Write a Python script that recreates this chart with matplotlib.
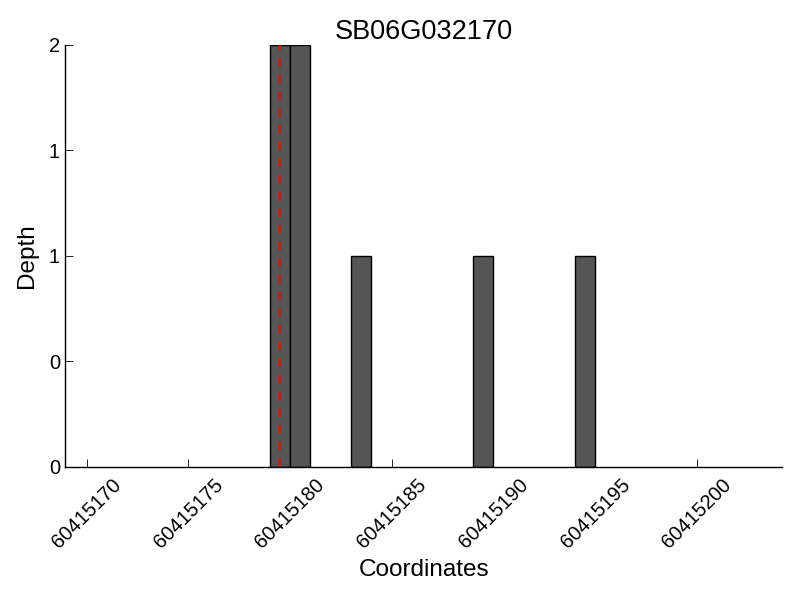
import matplotlib
matplotlib.use("Agg")
import matplotlib.pyplot as plt
from matplotlib.ticker import FuncFormatter

plt.rcParams["font.family"] = ["Liberation Sans", "DejaVu Sans"]

gene = "SB06G032170"
positions = [60415179, 60415180, 60415183, 60415189, 60415194]
depths = [2, 2, 1, 1, 1]
marker_pos = 60415179.5
xticks = [60415170, 60415175, 60415180, 60415185, 60415190, 60415195, 60415200]

fig = plt.figure(figsize=(8, 6), dpi=100)
ax = fig.add_axes([0.081, 0.222, 0.897, 0.703])

ax.bar(positions, depths, width=1, align="edge", color="#555555",
       edgecolor="black", linewidth=1)
ax.axvline(marker_pos, color="red", ls=(0, (4, 4)), lw=1.5)

ax.set_xlim(60415168.93, 60415204.2)
ax.set_ylim(0, 2)
ax.set_xticks(xticks)
ax.set_xticklabels([str(t) for t in xticks], rotation=45, fontsize=14.5)
ax.set_yticks([0, 0.5, 1, 1.5, 2])
ax.yaxis.set_major_formatter(FuncFormatter(lambda v, _: f"{int(v)}"))
ax.tick_params(direction="in", length=6, width=0.6, labelsize=14.5)
ax.tick_params(axis="x", pad=6)

for side in ("top", "right"):
    ax.spines[side].set_visible(False)
for side in ("left", "bottom"):
    ax.spines[side].set_linewidth(1)

ax.set_title(gene, fontsize=19.5, pad=4)
ax.set_xlabel("Coordinates", fontsize=17.5, labelpad=5)
ax.set_ylabel("Depth", fontsize=17.5, labelpad=8)

fig.savefig("out.png", dpi=100)
